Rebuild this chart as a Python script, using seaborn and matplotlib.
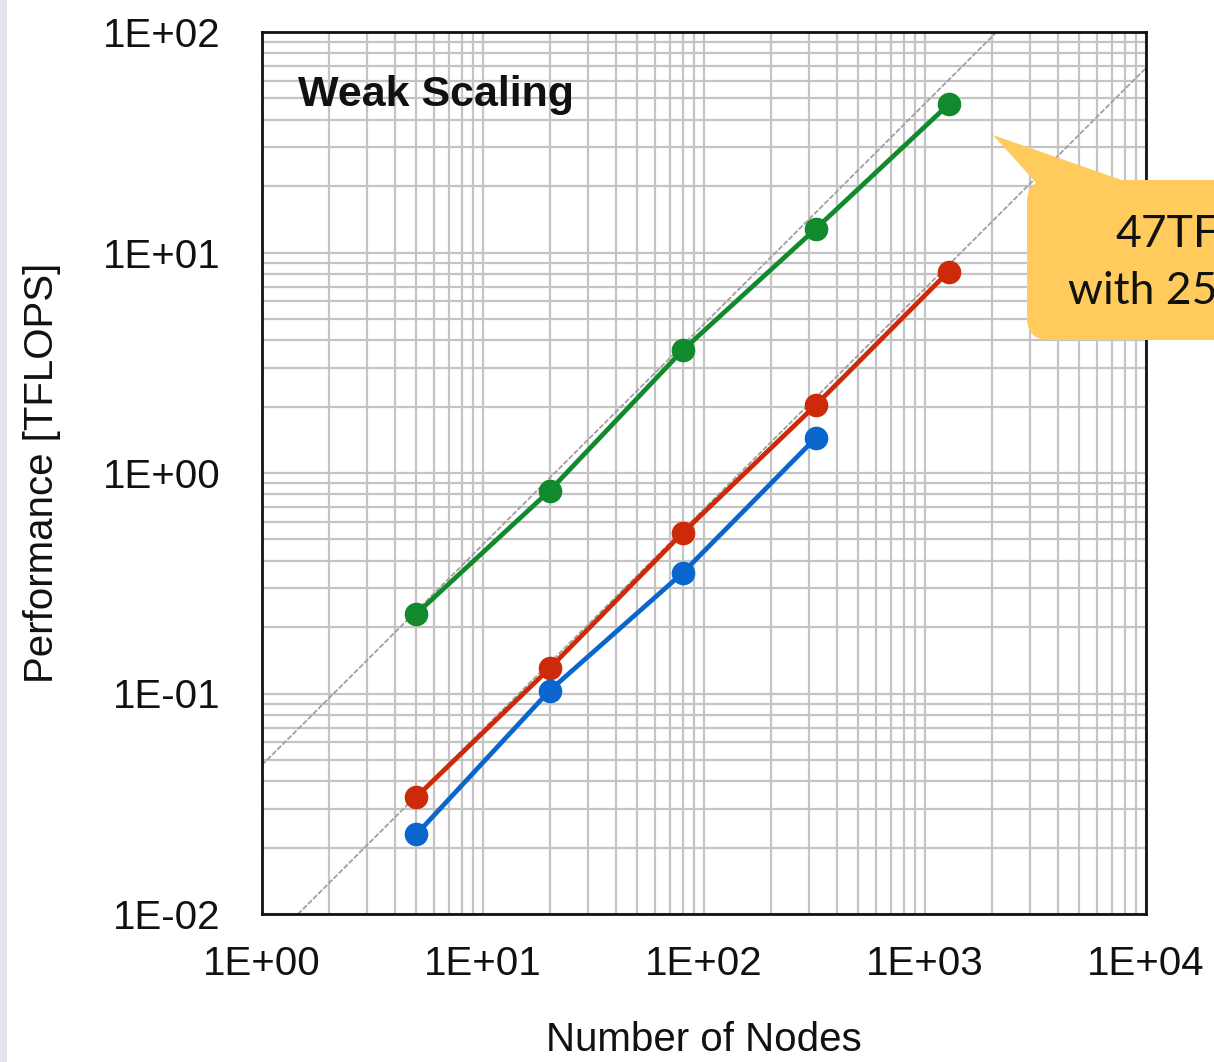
import numpy as np
import pandas as pd
import matplotlib
matplotlib.use("Agg")
import matplotlib.pyplot as plt
import seaborn as sns
from matplotlib.patches import FancyBboxPatch, Polygon, Rectangle
from matplotlib.ticker import LogLocator, FixedLocator, NullFormatter

# Data
nodes = [5, 20, 80, 320, 1280]
green_tflops = [0.23, 0.83, 3.6, 12.8, 47.0]
red_tflops = [0.034, 0.13, 0.535, 2.03, 8.2]
blue_nodes = [5, 20, 80, 320]
blue_tflops = [0.023, 0.103, 0.352, 1.44]

# ideal scaling reference lines (y = k * x)
ideal_x = [1, 10000]
ideal_k_upper = 0.0474
ideal_k_lower = 0.00687

xticks = [1, 10, 100, 1000, 10000]
xtick_labels = ["1E+00", "1E+01", "1E+02", "1E+03", "1E+04"]
yticks = [0.01, 0.1, 1, 10, 100]
ytick_labels = ["1E-02", "1E-01", "1E+00", "1E+01", "1E+02"]

df = pd.concat([
    pd.DataFrame({"nodes": nodes, "tflops": green_tflops, "series": "green"}),
    pd.DataFrame({"nodes": nodes, "tflops": red_tflops, "series": "red"}),
    pd.DataFrame({"nodes": blue_nodes, "tflops": blue_tflops, "series": "blue"}),
])
palette = {"green": "#108a2c", "red": "#cc2a0a", "blue": "#0a66cc"}

sns.set_theme(style="white")
plt.rcParams["font.family"] = ["Liberation Sans", "DejaVu Sans"]

W, H = 1214, 1062
fig = plt.figure(figsize=(W / 100, H / 100), dpi=100)
ax = fig.add_axes([262 / W, 1 - 914 / H, (1146 - 262) / W, (914 - 32) / H])
ax.set_xscale("log")
ax.set_yscale("log")
ax.set_xlim(1, 10000)
ax.set_ylim(0.01, 100)

# grid
ax.xaxis.set_minor_locator(LogLocator(base=10, subs=np.arange(2, 10)))
ax.yaxis.set_minor_locator(LogLocator(base=10, subs=np.arange(2, 10)))
ax.xaxis.set_minor_formatter(NullFormatter())
ax.yaxis.set_minor_formatter(NullFormatter())
ax.grid(True, which="both", color="#c4c4c4", linewidth=1.6)
ax.set_axisbelow(True)

# ideal lines
for k in [ideal_k_upper, ideal_k_lower]:
    ax.plot(ideal_x, [k * v for v in ideal_x], color="#a0a0a0", lw=1.3,
            ls=(0, (3, 1)), zorder=2)

sns.lineplot(data=df, x="nodes", y="tflops", hue="series", palette=palette,
             marker="o", markersize=17, markeredgewidth=0, linewidth=3.4,
             legend=False, ax=ax, zorder=3)

ax.xaxis.set_major_locator(FixedLocator(xticks))
ax.yaxis.set_major_locator(FixedLocator(yticks))
ax.set_xticklabels(xtick_labels)
ax.set_yticklabels(ytick_labels)
ax.tick_params(axis="both", which="major", labelsize=29, direction="in",
               length=5, width=1.2, color="#222222", labelcolor="#111111")
ax.tick_params(axis="y", which="major", pad=30)
ax.tick_params(axis="x", which="major", pad=22)
ax.tick_params(axis="both", which="minor", direction="in", length=4,
               width=1.0, color="#333333")

for s in ax.spines.values():
    s.set_color("#111111")
    s.set_linewidth(2.0)

ax.set_xlabel("Number of Nodes", fontsize=29, color="#111111", labelpad=28)
ax.set_ylabel("Performance [TFLOPS]", fontsize=29, color="#111111", labelpad=30)
ax.text((298 - 262) / 884, 1 - (95 - 32) / 882, "Weak Scaling",
        transform=ax.transAxes, fontsize=31, fontweight="bold",
        color="#111111", va="center", ha="left")

# left strip
fig.patches.append(Rectangle((0, 0), 7 / W, 1, transform=fig.transFigure,
                             facecolor="#e1e5ea", edgecolor="none"))

# callout
tr = fig.dpi_scale_trans
def P(x, y):
    return (x / 100, (H - y) / 100)

callout = "#fecb5c"
fig.patches.append(Polygon([P(993, 135), P(1047, 195), P(1150, 190)],
                           closed=True, transform=tr, facecolor=callout,
                           edgecolor="none", zorder=5))
bx, by = P(1027, 340)
fig.patches.append(FancyBboxPatch((bx, by), 3.0, 1.6,
                                  boxstyle="round,pad=0,rounding_size=0.22",
                                  transform=tr, facecolor=callout,
                                  edgecolor="none", zorder=5))
x1, y1 = P(1115, 234)
fig.text(x1, y1, "47TF", transform=tr, fontsize=32, family=["Lato", "DejaVu Sans"],
         va="center", ha="left", color="#111111", zorder=6)
x2, y2 = P(1068, 292)
fig.text(x2, y2, "with 25", transform=tr, fontsize=32, family=["Lato", "DejaVu Sans"],
         va="center", ha="left", color="#111111", zorder=6)

fig.savefig("out.png", dpi=100)
